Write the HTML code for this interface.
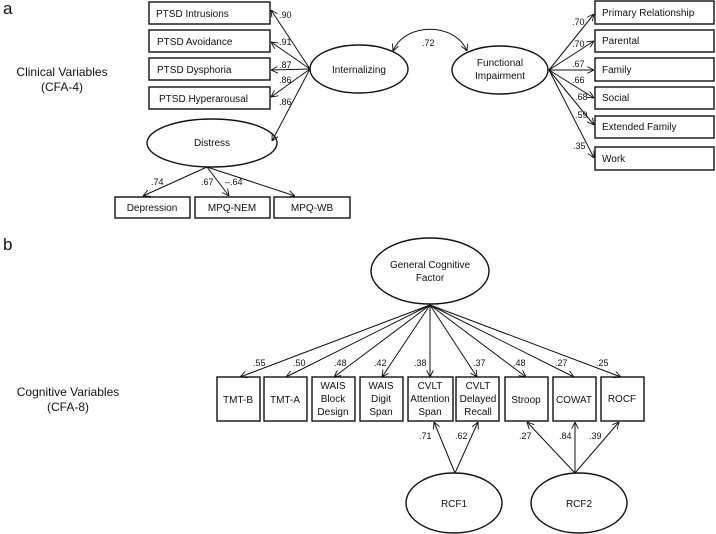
<!DOCTYPE html>
<html><head><meta charset="utf-8"><style>
html,body{margin:0;padding:0;background:#fff}
svg{display:block}
text{font-family:"Liberation Sans",sans-serif;font-size:10px;fill:#111}
.s{font-size:9px}
</style></head><body>
<svg width="716" height="534" viewBox="0 0 716 534" xmlns="http://www.w3.org/2000/svg">
<defs><marker id="a" viewBox="0 0 10 10" refX="10" refY="5" markerWidth="7" markerHeight="7" orient="auto-start-reverse"><path d="M0,0 L10,5 L0,10" fill="none" stroke="#111" stroke-width="1.3"/></marker></defs>
<g fill="none" stroke="#111" stroke-width="1.4">
<!-- panel a boxes -->
<rect x="149" y="2" width="121" height="22"/><rect x="149" y="30" width="121" height="22"/>
<rect x="149" y="58" width="121" height="22"/><rect x="149" y="87" width="121" height="22"/>
<rect x="595" y="1" width="119" height="23"/><rect x="595" y="30" width="119" height="22"/>
<rect x="595" y="58" width="119" height="23"/><rect x="595" y="87" width="119" height="22"/>
<rect x="595" y="116" width="119" height="22"/><rect x="595" y="147" width="119" height="23"/>
<rect x="115" y="197" width="75" height="21"/><rect x="195" y="197" width="75" height="21"/><rect x="274" y="197" width="76" height="21"/>
<ellipse cx="359" cy="69" rx="49" ry="24"/><ellipse cx="500" cy="70" rx="48" ry="24"/><ellipse cx="212" cy="143" rx="65" ry="24"/>
</g>
<g stroke="#111" stroke-width="1" fill="none" marker-end="url(#a)">
<line x1="310" y1="69" x2="271" y2="10"/><line x1="310" y1="69" x2="271" y2="42"/>
<line x1="310" y1="69" x2="271" y2="70"/><line x1="310" y1="69" x2="271" y2="97"/>
<line x1="310" y1="69" x2="272" y2="141"/>
<line x1="549" y1="70" x2="594" y2="14"/><line x1="549" y1="70" x2="594" y2="41"/>
<line x1="549" y1="70" x2="594" y2="70"/><line x1="549" y1="70" x2="594" y2="98"/>
<line x1="549" y1="70" x2="594" y2="125"/><line x1="549" y1="70" x2="594" y2="158"/>
<line x1="207" y1="167" x2="143" y2="196"/><line x1="207" y1="167" x2="229" y2="196"/><line x1="207" y1="167" x2="295" y2="196"/>
<path d="M393,51 C405,22 455,22 467,51" marker-start="url(#a)"/>
</g>
<text x="3" y="14" style="font-size:17px">a</text>
<text x="62" y="76" text-anchor="middle" style="font-size:12px">Clinical Variables</text>
<text x="62" y="91" text-anchor="middle" style="font-size:12px">(CFA-4)</text>
<text x="156" y="17">PTSD Intrusions</text><text x="157" y="45">PTSD Avoidance</text>
<text x="157" y="73">PTSD Dysphoria</text><text x="159" y="102">PTSD Hyperarousal</text>
<text x="359" y="73" text-anchor="middle">Internalizing</text>
<text x="500" y="66" text-anchor="middle">Functional</text><text x="500" y="79" text-anchor="middle">Impairment</text>
<text x="212" y="146" text-anchor="middle">Distress</text>
<text x="152" y="211" text-anchor="middle">Depression</text><text x="232" y="211" text-anchor="middle">MPQ-NEM</text><text x="312" y="211" text-anchor="middle">MPQ-WB</text>
<text x="602" y="16">Primary Relationship</text><text x="602" y="44">Parental</text><text x="602" y="73">Family</text>
<text x="602" y="101">Social</text><text x="602" y="130">Extended Family</text><text x="602" y="162">Work</text>
<g class="s">
<text x="279" y="18" class="s">.90</text><text x="279" y="45" class="s">.91</text><text x="279" y="68" class="s">.87</text>
<text x="279" y="83" class="s">.86</text><text x="279" y="105" class="s">.86</text>
<text x="422" y="46" class="s">.72</text>
<text x="572" y="25" class="s">.70</text><text x="572" y="47" class="s">.70</text><text x="572" y="67" class="s">.67</text>
<text x="572" y="83" class="s">.66</text><text x="575" y="100" class="s">.68</text><text x="575" y="118" class="s">.59</text><text x="573" y="149" class="s">.35</text>
<text x="151" y="185" class="s">.74</text><text x="201" y="185" class="s">.67</text><text x="225" y="185" class="s">–.64</text>
</g>
<!-- panel b -->
<text x="3" y="250" style="font-size:17px">b</text>
<text x="68" y="396" text-anchor="middle" style="font-size:12px">Cognitive Variables</text>
<text x="68" y="411" text-anchor="middle" style="font-size:12px">(CFA-8)</text>
<g fill="none" stroke="#111" stroke-width="1.4">
<ellipse cx="430" cy="271" rx="59" ry="33"/>
<ellipse cx="454" cy="503" rx="48" ry="30"/><ellipse cx="579" cy="503" rx="48" ry="30"/>
<rect x="217" y="377" width="43" height="44"/><rect x="264" y="377" width="43" height="44"/>
<rect x="312" y="377" width="43" height="44"/><rect x="360" y="377" width="43" height="44"/>
<rect x="408" y="377" width="45" height="44"/><rect x="456" y="377" width="43" height="44"/>
<rect x="505" y="377" width="43" height="44"/><rect x="553" y="377" width="43" height="44"/>
<rect x="601" y="377" width="43" height="44"/>
</g>
<g stroke="#111" stroke-width="1" fill="none" marker-end="url(#a)">
<line x1="430" y1="305" x2="240" y2="377"/><line x1="430" y1="305" x2="286" y2="377"/>
<line x1="430" y1="305" x2="334" y2="377"/><line x1="430" y1="305" x2="382" y2="377"/>
<line x1="430" y1="305" x2="430" y2="377"/><line x1="430" y1="305" x2="477" y2="377"/>
<line x1="430" y1="305" x2="526" y2="377"/><line x1="430" y1="305" x2="574" y2="377"/>
<line x1="430" y1="305" x2="621" y2="377"/>
<line x1="455" y1="473" x2="434" y2="422"/><line x1="455" y1="473" x2="478" y2="422"/>
<line x1="575" y1="473" x2="527" y2="422"/><line x1="575" y1="473" x2="575" y2="422"/><line x1="575" y1="473" x2="619" y2="422"/>
</g>
<text x="430" y="268" text-anchor="middle">General Cognitive</text><text x="430" y="281" text-anchor="middle">Factor</text>
<text x="454" y="507" text-anchor="middle">RCF1</text><text x="579" y="507" text-anchor="middle">RCF2</text>
<g text-anchor="middle">
<text x="238" y="403">TMT-B</text><text x="285" y="403">TMT-A</text>
<text x="333" y="389">WAIS</text><text x="333" y="402">Block</text><text x="333" y="415">Design</text>
<text x="381" y="389">WAIS</text><text x="381" y="402">Digit</text><text x="381" y="415">Span</text>
<text x="430" y="389">CVLT</text><text x="430" y="402">Attention</text><text x="430" y="415">Span</text>
<text x="478" y="389">CVLT</text><text x="478" y="402">Delayed</text><text x="478" y="415">Recall</text>
<text x="526" y="403">Stroop</text><text x="574" y="403">COWAT</text><text x="622" y="402">ROCF</text>
</g>
<g class="s">
<text x="253" y="366" class="s">.55</text><text x="293" y="366" class="s">.50</text><text x="334" y="366" class="s">.48</text>
<text x="374" y="366" class="s">.42</text><text x="414" y="366" class="s">.38</text><text x="473" y="366" class="s">.37</text>
<text x="513" y="366" class="s">.48</text><text x="555" y="366" class="s">.27</text><text x="596" y="366" class="s">.25</text>
<text x="419" y="439" class="s">.71</text><text x="455" y="439" class="s">.62</text>
<text x="519" y="439" class="s">.27</text><text x="559" y="439" class="s">.84</text><text x="589" y="439" class="s">.39</text>
</g>
</svg>
</body></html>
